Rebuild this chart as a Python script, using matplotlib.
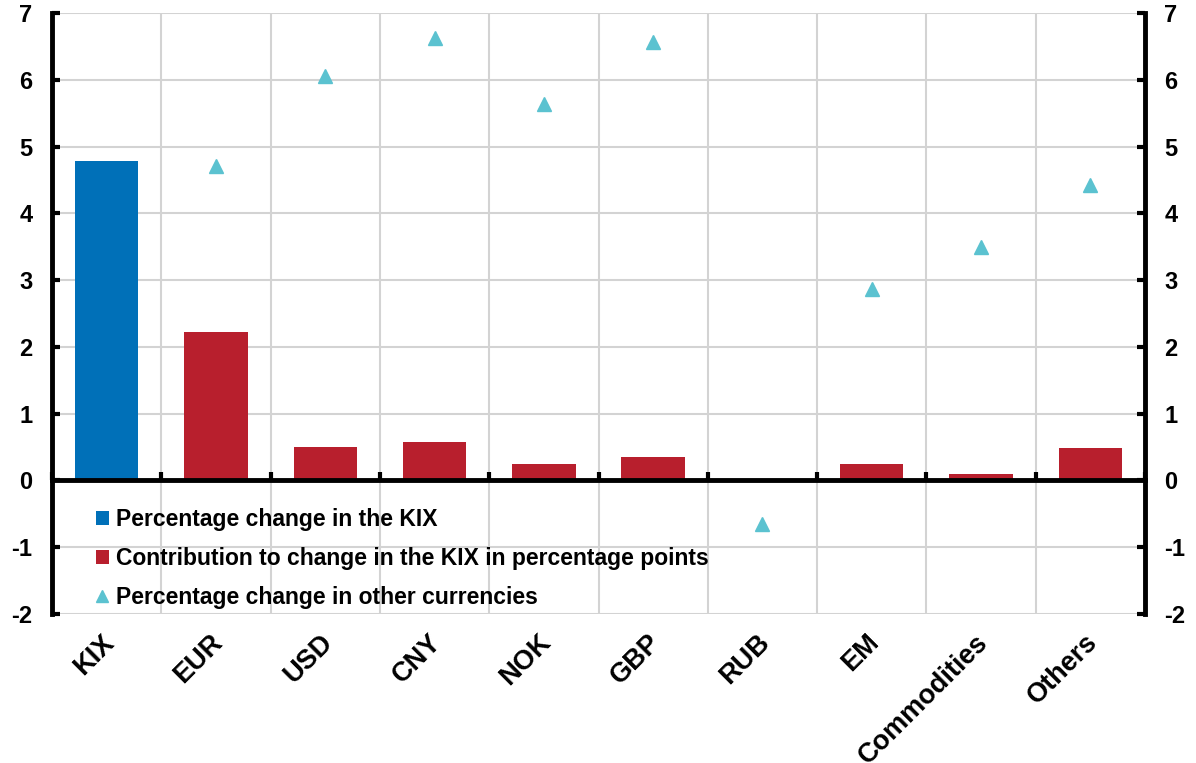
import matplotlib
matplotlib.use("Agg")
import matplotlib.pyplot as plt
from matplotlib.patches import Patch
from matplotlib.lines import Line2D
import matplotlib.transforms as mtransforms
import numpy as np

plt.rcParams['font.family'] = ['Liberation Sans', 'DejaVu Sans']
plt.rcParams['font.weight'] = 'bold'

categories = ["KIX", "EUR", "USD", "CNY", "NOK", "GBP", "RUB", "EM", "Commodities", "Others"]
kix_change = [4.78, None, None, None, None, None, None, None, None, None]
contribution = [None, 2.22, 0.50, 0.57, 0.24, 0.35, 0.0, 0.24, 0.10, 0.48]
other_currencies = [None, 4.71, 6.05, 6.62, 5.63, 6.57, -0.65, 2.87, 3.49, 4.43]
yticks = [-2, -1, 0, 1, 2, 3, 4, 5, 6, 7]

blue = "#0070B8"
red = "#B81F2D"
teal = "#5BC2D0"
grid_c = "#D3D3D3"

fig = plt.figure(figsize=(11.96, 7.63), dpi=100)
ax = fig.add_axes([52/1196, 1-614/763, (1145-52)/1196, (614-13)/763])

x = np.arange(len(categories))
kv = [np.nan if v is None else v for v in kix_change]
cv = [np.nan if v is None else v for v in contribution]
ov = [np.nan if v is None else v for v in other_currencies]

w = 0.58
ax.bar(x, kv, width=w, color=blue, zorder=3)
ax.bar(x, cv, width=w, color=red, zorder=3)
ax.plot(x, ov, linestyle='none', marker='^', markersize=10, color=teal, zorder=4)

ax.set_xlim(-0.5, len(categories) - 0.5)
ax.set_ylim(-2, 7)
ax.set_yticks(yticks)
ax.set_yticklabels([str(t) for t in yticks])

# grid
ax.set_xticks(x)
ax.set_xticks(np.arange(-0.5, len(categories) + 0.5, 1.0), minor=True)
ax.grid(True, which='minor', axis='x', color=grid_c, lw=1.5, zorder=0)
ax.grid(True, which='major', axis='y', color=grid_c, lw=1.5, zorder=0)
ax.set_axisbelow(True)

# spines
for s in ['left', 'right']:
    ax.spines[s].set_linewidth(3.5)
    ax.spines[s].set_color('black')
ax.spines['top'].set_visible(False)
ax.spines['bottom'].set_position(('data', 0))
ax.spines['bottom'].set_linewidth(3.5)
ax.spines['bottom'].set_zorder(5)

ax.tick_params(axis='y', which='both', direction='in', length=6, width=3,
               left=True, right=True, labelleft=True, labelright=True,
               labelsize=17, pad=14)
ax.tick_params(axis='x', which='major', length=0, labelbottom=False)
ax.tick_params(axis='x', which='minor', direction='in', length=6, width=3, labelbottom=False)
for lab in ax.get_yticklabels():
    lab.set_fontweight('bold')

# category labels on an axis at the bottom (-2)
sec = ax.secondary_xaxis(0.0)
sec.set_xticks(x)
sec.set_xticklabels(categories, rotation=45, ha='right', va='top',
                    rotation_mode='anchor', fontsize=19.5, fontweight='bold')
sec.tick_params(length=0, pad=11)
sec.spines['bottom'].set_visible(False)
offset = mtransforms.ScaledTranslation(-6/100, 0, fig.dpi_scale_trans)
for lab in sec.get_xticklabels():
    lab.set_transform(lab.get_transform() + offset)

handles = [
    Patch(facecolor=blue, edgecolor='none'),
    Patch(facecolor=red, edgecolor='none'),
    Line2D([], [], linestyle='none', marker='^', markersize=9, color=teal),
]
labels = ["Percentage change in the KIX",
          "Contribution to change in the KIX in percentage points",
          "Percentage change in other currencies"]
leg = ax.legend(handles, labels, loc='upper left', bbox_to_anchor=(0.032, 0.192),
                frameon=False, fontsize=16.5, handlelength=0.55, handleheight=0.55,
                handletextpad=0.3, labelspacing=0.7, borderaxespad=0)
for t in leg.get_texts():
    t.set_fontweight('bold')

fig.savefig("out.png", dpi=100)
